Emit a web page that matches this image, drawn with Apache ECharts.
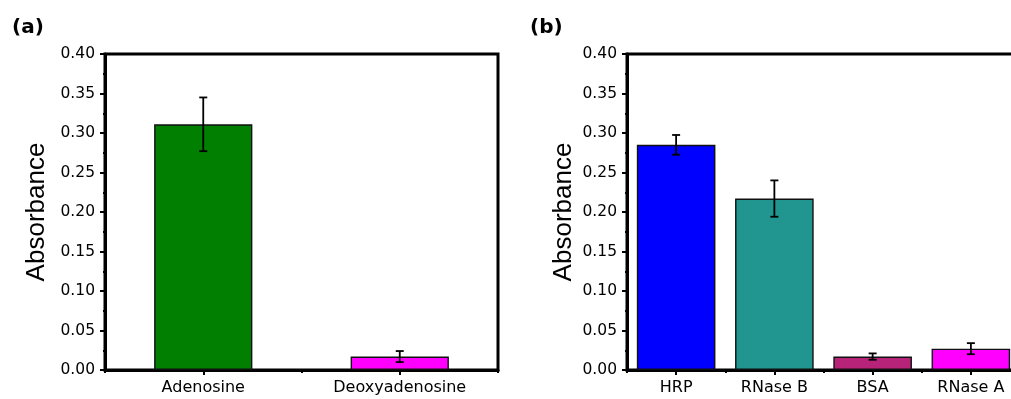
<!DOCTYPE html>
<html>
<head>
<meta charset="utf-8">
<script src="https://cdn.jsdelivr.net/npm/echarts@6/dist/echarts.min.js"></script>
<style>html,body{margin:0;padding:0;background:#fff;overflow:hidden;width:1011px;height:399px;}#c{width:1022px;height:399px;}</style>
</head>
<body>
<div id="c"></div>
<script>
const catsA = ['Adenosine', 'Deoxyadenosine'];
const valsA = [0.311, 0.017];
const errA = [0.034, 0.007];
const colorsA = ['#007F00', '#FF00FF'];

const catsB = ['HRP', 'RNase B', 'BSA', 'RNase A'];
const valsB = [0.285, 0.217, 0.017, 0.027];
const errB = [0.0125, 0.023, 0.004, 0.007];
const colorsB = ['#0000FF', '#21958F', '#B62378', '#FF00FF'];

const yMin = 0, yMax = 0.4, yStep = 0.05;
const yName = 'Absorbance';
const panelLabels = ['(a)', '(b)'];

const chart = echarts.init(document.getElementById('c'), null, {renderer: 'canvas'});

function yAxisCfg(gridIndex, gap) {
  return {
    type: 'value', gridIndex: gridIndex, min: yMin, max: yMax, interval: yStep,
    name: yName, nameLocation: 'middle', nameGap: gap,
    nameTextStyle: {fontFamily: 'Liberation Sans', fontSize: 26, color: '#000'},
    axisLine: {show: true, lineStyle: {color: '#000', width: 3}},
    axisTick: {show: true, inside: false, length: 5, lineStyle: {color: '#000', width: 2}},
    minorTick: {show: true, splitNumber: 2, length: 2, lineStyle: {color: '#000', width: 2}},
    splitLine: {show: false},
    axisLabel: {margin: 10, fontFamily: 'DejaVu Sans', fontSize: 15.5, color: '#000',
      formatter: v => v.toFixed(2)}
  };
}
function xAxisMain(gridIndex, cats) {
  return {
    type: 'category', gridIndex: gridIndex, data: cats, position: 'bottom',
    axisLine: {show: true, onZero: false, lineStyle: {color: '#000', width: 3}},
    axisTick: {show: true, alignWithLabel: true, length: 5, lineStyle: {color: '#000', width: 2}},
    axisLabel: {margin: 10, fontFamily: 'DejaVu Sans', fontSize: 16, color: '#000'},
    splitLine: {show: false}
  };
}
function xAxisMinor(gridIndex, cats) {
  return {
    type: 'category', gridIndex: gridIndex, data: cats, position: 'bottom',
    axisLine: {show: false},
    axisTick: {show: true, alignWithLabel: false, length: 3, lineStyle: {color: '#000', width: 2}},
    axisLabel: {show: false},
    splitLine: {show: false}
  };
}
function barSeries(xi, yi, vals, colors, width) {
  return {
    type: 'bar', xAxisIndex: xi, yAxisIndex: yi, barWidth: width,
    data: vals.map((v, i) => ({value: v, itemStyle: {color: colors[i], borderColor: '#111', borderWidth: 1.4}})),
    z: 2
  };
}
function errSeries(xi, yi, vals, errs) {
  return {
    type: 'custom', xAxisIndex: xi, yAxisIndex: yi, z: 5,
    data: vals.map((v, i) => [i, v, errs[i]]),
    renderItem: function (params, api) {
      const i = api.value(0), v = api.value(1), e = api.value(2);
      const hi = api.coord([i, v + e]);
      const lo = api.coord([i, v - e]);
      const cw = 4;
      const st = {stroke: '#000', lineWidth: 1.8};
      return {
        type: 'group',
        children: [
          {type: 'line', shape: {x1: hi[0], y1: hi[1], x2: lo[0], y2: lo[1]}, style: st},
          {type: 'line', shape: {x1: hi[0] - cw, y1: hi[1], x2: hi[0] + cw, y2: hi[1]}, style: st},
          {type: 'line', shape: {x1: lo[0] - cw, y1: lo[1], x2: lo[0] + cw, y2: lo[1]}, style: st}
        ]
      };
    }
  };
}

const option = {
  animation: false,
  backgroundColor: '#fff',
  title: [
    {text: panelLabels[0], left: 12, top: 18, padding: 0, textStyle: {fontFamily: 'DejaVu Sans', fontWeight: 'bold', fontSize: 20, color: '#000'}},
    {text: panelLabels[1], left: 530, top: 18, padding: 0, textStyle: {fontFamily: 'DejaVu Sans', fontWeight: 'bold', fontSize: 20, color: '#000'}}
  ],
  grid: [
    {left: 105, top: 54, width: 393, bottom: 29, show: true, borderColor: '#000', borderWidth: 3, backgroundColor: 'transparent'},
    {left: 627, top: 54, width: 393, bottom: 29, show: true, borderColor: '#000', borderWidth: 3, backgroundColor: 'transparent'}
  ],
  xAxis: [
    xAxisMain(0, catsA),
    xAxisMinor(0, catsA),
    xAxisMain(1, catsB),
    xAxisMinor(1, catsB)
  ],
  yAxis: [yAxisCfg(0, 55), yAxisCfg(1, 50)],
  series: [
    barSeries(0, 0, valsA, colorsA, '50%'),
    errSeries(0, 0, valsA, errA),
    barSeries(2, 1, valsB, colorsB, '80%'),
    errSeries(2, 1, valsB, errB)
  ]
};
chart.setOption(option);
</script>
</body>
</html>
